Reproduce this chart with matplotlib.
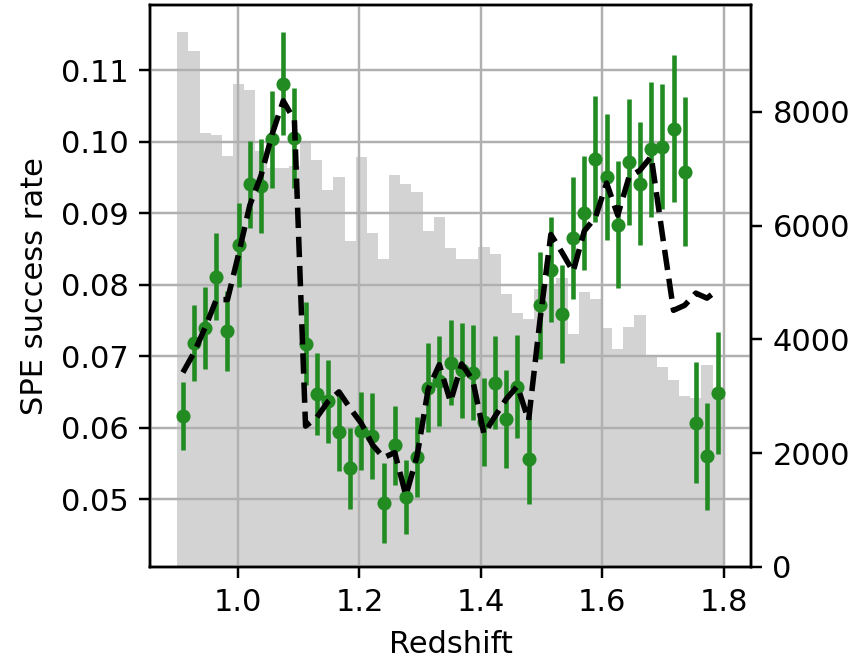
import numpy as np
import matplotlib
matplotlib.use("Agg")
import matplotlib.pyplot as plt

# Redshift binning: 49 bins between z = 0.9 and z = 1.8
z_edges = np.linspace(0.9, 1.8, 50)
z_centers = 0.5 * (z_edges[:-1] + z_edges[1:])

# Number of objects per redshift bin (right axis)
counts = [9410, 9070, 7630, 7590, 7225, 8490, 8390, 7320, 7010, 7010,
          7050, 7480, 7150, 6620, 6850, 5740, 7200, 5880, 5410, 6900,
          6730, 6585, 5905, 6160, 5610, 5420, 5420, 5625, 5500, 4800,
          4460, 4360, 4890, 4950, 5080, 4095, 4830, 4710, 4200, 3830,
          4215, 4435, 3690, 3520, 3290, 3000, 2970, 3550, 3140]

# Measured SPE success rate and its uncertainty per bin
success_rate = [0.0616, 0.0718, 0.0739, 0.0811, 0.0735, 0.0855, 0.0940, 0.0938, 0.1003, 0.1081,
                0.1005, 0.0717, 0.0647, 0.0637, 0.0594, 0.0543, 0.0595, 0.0588, 0.0495, 0.0575,
                0.0503, 0.0559, 0.0656, 0.0665, 0.0691, 0.0680, 0.0677, 0.0608, 0.0663, 0.0612,
                0.0657, 0.0556, 0.0771, 0.0821, 0.0759, 0.0865, 0.0900, 0.0976, 0.0950, 0.0884,
                0.0971, 0.0941, 0.0989, 0.0993, 0.1018, 0.0958, 0.0607, 0.0560, 0.0648]
success_err = [0.0048, 0.0053, 0.0057, 0.0061, 0.0056, 0.0059, 0.0061, 0.0066, 0.0068, 0.0072,
               0.0070, 0.0058, 0.0057, 0.0058, 0.0055, 0.0057, 0.0055, 0.0060, 0.0056, 0.0055,
               0.0052, 0.0056, 0.0062, 0.0063, 0.0060, 0.0066, 0.0066, 0.0062, 0.0065, 0.0069,
               0.0072, 0.0063, 0.0075, 0.0074, 0.0068, 0.0085, 0.0080, 0.0088, 0.0088, 0.0089,
               0.0088, 0.0086, 0.0095, 0.0087, 0.0103, 0.0104, 0.0085, 0.0075, 0.0085]

# Predicted success rate per bin
model_rate = [0.0677, 0.0705, 0.0740, 0.0779, 0.0779, 0.0843, 0.0911, 0.0952, 0.1010, 0.1057,
              0.1030, 0.0602, 0.0614, 0.0636, 0.0650, 0.0627, 0.0606, 0.0576, 0.0558, 0.0565,
              0.0505, 0.0560, 0.0654, 0.0688, 0.0636, 0.0689, 0.0666, 0.0591, 0.0616, 0.0640,
              0.0658, 0.0610, 0.0747, 0.0870, 0.0845, 0.0818, 0.0875, 0.0894, 0.0942, 0.0897,
              0.0950, 0.0960, 0.0979, 0.0870, 0.0764, 0.0771, 0.0788, 0.0781, 0.0793]

fig = plt.figure(figsize=(855 / 220, 663 / 220), dpi=220)
ax = fig.add_axes([150 / 855, 1 - 567 / 663, 601 / 855, 562 / 663])
ax2 = ax.twinx()

ax2.hist(z_centers, bins=z_edges, weights=counts, color="lightgray")

# keep the rate axis (and its grid) above the histogram
ax.set_zorder(ax2.get_zorder() + 1)
ax.patch.set_visible(False)

ax.errorbar(z_centers, success_rate, yerr=success_err, fmt="o", color="forestgreen",
            ms=3.6, elinewidth=1.5, zorder=2)
ax.plot(z_centers, model_rate, "k--", lw=1.8, zorder=3)

ax.set_ylim(0.0405, 0.1191)
ax.grid(True)
ax.set_axisbelow(True)
ax.set_xlabel("Redshift")
ax.set_ylabel("SPE success rate")

fig.savefig("out.png", dpi=220)
